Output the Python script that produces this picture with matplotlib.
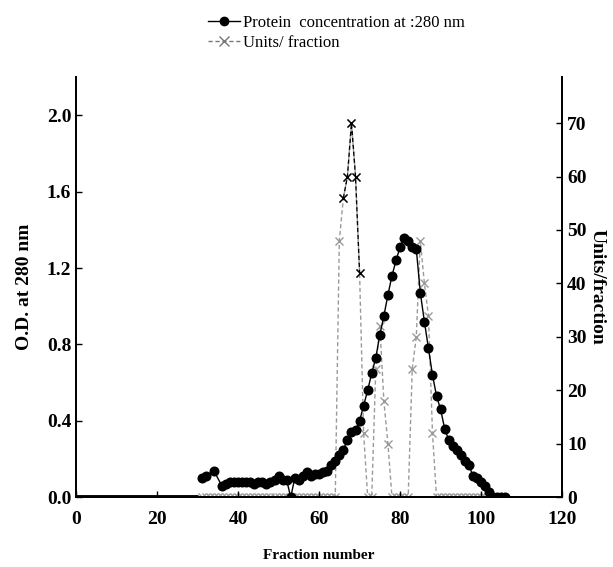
import numpy as np
import matplotlib
matplotlib.use("Agg")
import matplotlib.pyplot as plt

# --- data ---
# protein (O.D. at 280 nm), fractions 0-30 are a flat zero baseline
baseline_frac = [0, 30]
baseline_od = [0.0, 0.0]

protein_frac = [31, 32, 34, 36, 37, 38, 39, 40, 41, 42, 43, 44, 45, 46, 47, 48, 49,
                50, 51, 52, 53, 54, 55, 56, 57, 58, 59, 60, 61, 62, 63, 64, 65, 66,
                67, 68, 69, 70, 71, 72, 73, 74, 75, 76, 77, 78, 79, 80, 81, 82, 83,
                84, 85, 86, 87, 88, 89, 90, 91, 92, 93, 94, 95, 96, 97, 98, 99, 100,
                101, 102, 103, 104, 105, 106]
protein_od = [0.10, 0.11, 0.14, 0.06, 0.07, 0.08, 0.08, 0.08, 0.08, 0.08, 0.08, 0.07,
              0.08, 0.08, 0.07, 0.08, 0.09, 0.11, 0.09, 0.09, 0.00, 0.10, 0.09, 0.11,
              0.13, 0.11, 0.12, 0.12, 0.13, 0.14, 0.17, 0.19, 0.22, 0.25, 0.30, 0.34,
              0.35, 0.40, 0.48, 0.56, 0.65, 0.73, 0.85, 0.95, 1.06, 1.16, 1.24, 1.31,
              1.36, 1.34, 1.31, 1.30, 1.07, 0.92, 0.78, 0.64, 0.53, 0.46, 0.36, 0.30,
              0.27, 0.25, 0.22, 0.19, 0.17, 0.11, 0.10, 0.08, 0.06, 0.03, 0.00, 0.00,
              0.00, 0.00]

# enzyme units per fraction
units_frac = list(range(31, 103))
units_val = ([0] * 34                                   # 31-64
             + [48, 56, 60, 70, 60, 42, 12, 0, 0]       # 65-73
             + [24, 32, 18, 10, 0, 0, 0, 0, 0]          # 74-82
             + [24, 30, 48, 40, 34, 12, 0]              # 83-89
             + [0] * 13)                                # 90-102
peak_frac = [66, 67, 68, 69, 70]
peak_val = [56, 60, 70, 60, 42]

x_ticks = [0, 20, 40, 60, 80, 100, 120]
od_ticks = [0.0, 0.4, 0.8, 1.2, 1.6, 2.0]
unit_ticks = [0, 10, 20, 30, 40, 50, 60, 70]

plt.rcParams['font.family'] = ['Liberation Serif', 'DejaVu Serif']

fig = plt.figure(figsize=(6.13, 5.67), dpi=100)
ax = fig.add_axes([0.124, 0.123, 0.793, 0.741])
ax2 = ax.twinx()

# units (right axis) first so protein sits on top
ax2.plot(units_frac, units_val, color='#9a9a9a', ls='--', lw=1.0,
         marker='x', ms=6, mew=1.0, dashes=(3, 2))
ax2.plot(peak_frac, peak_val, color='black', ls='--', lw=1.0,
         marker='x', ms=6, mew=1.0, dashes=(3, 2))
ax2.set_ylim(0, 78.6)
ax2.set_yticks(unit_ticks)
ax2.set_ylabel('Units/fraction', fontsize=14, fontweight='bold',
               rotation=-90, labelpad=14)

ax.set_zorder(ax2.get_zorder() + 1)
ax.patch.set_visible(False)
ax.plot(baseline_frac, baseline_od, color='black', lw=3.5, solid_capstyle='butt')
ax.plot(protein_frac, protein_od, color='black', lw=1.0, marker='o', ms=6.2)
ax.set_xlim(0, 120)
ax.set_ylim(0, 2.2)
ax.set_xticks(x_ticks)
ax.set_yticks(od_ticks)
ax.set_yticklabels([f'{v:.1f}' for v in od_ticks])
ax.set_xlabel('Fraction number', fontsize=11, fontweight='bold', labelpad=15)
ax.set_ylabel('O.D. at 280 nm', fontsize=14, fontweight='bold', labelpad=10)

for a in (ax, ax2):
    a.spines['top'].set_visible(False)
    for s in a.spines.values():
        s.set_linewidth(1.3)
    a.tick_params(direction='in', length=4, width=1.0, labelsize=14)
    for lab in a.get_xticklabels() + a.get_yticklabels():
        lab.set_fontweight('bold')
ax.tick_params(axis='x', pad=10)

# legend above the plot
h1, = ax.plot([], [], color='black', lw=1.0, marker='o', ms=6)
h2, = ax.plot([], [], color='#777777', ls='--', lw=1.0, marker='x', ms=7, dashes=(3, 2))
fig.legend([h1, h2], ['Protein  concentration at :280 nm', 'Units/ fraction'],
           loc='upper left', bbox_to_anchor=(0.315, 1.0), frameon=False,
           fontsize=12, handlelength=1.9, handletextpad=0.2, labelspacing=0.25)

fig.savefig('out.png', dpi=100)
